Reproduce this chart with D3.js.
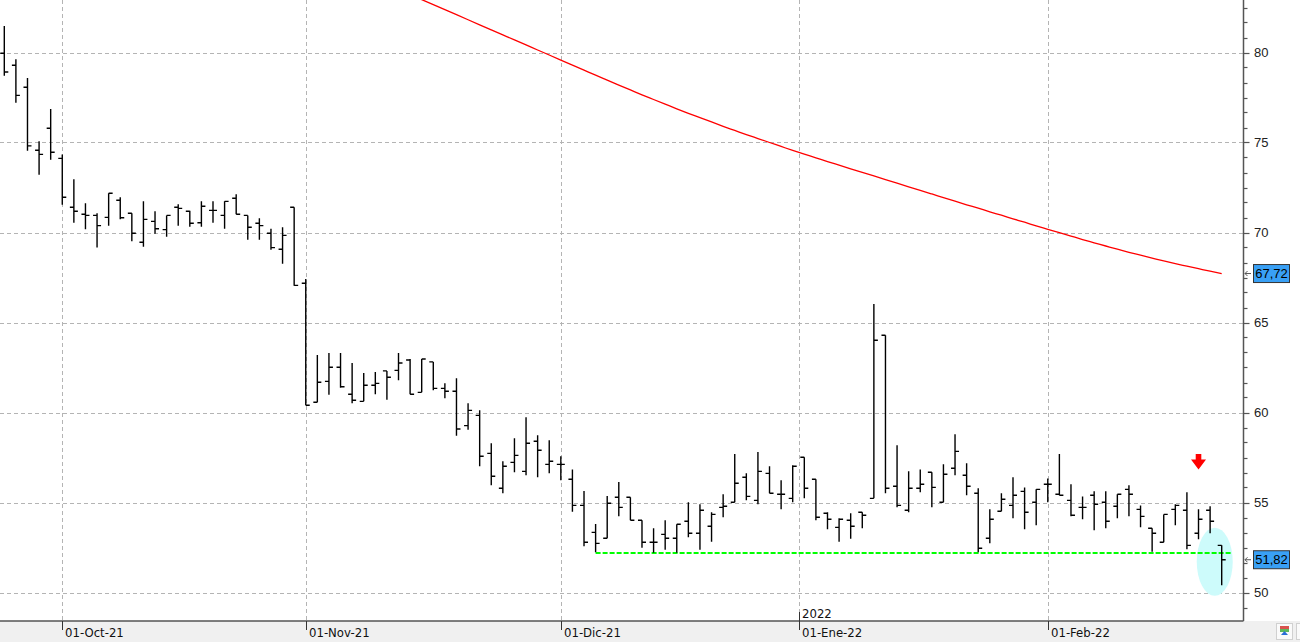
<!DOCTYPE html>
<html>
<head>
<meta charset="utf-8">
<script src="https://cdn.jsdelivr.net/npm/d3@7.9.0/dist/d3.min.js"></script>
<style>
  html, body { margin: 0; padding: 0; background: #fff; }
  svg { display: block; }
</style>
</head>
<body>
<svg id="chart" width="1300" height="642"></svg>
<script>
// daily OHLC, one entry per trading day (index 0 = late Sep 2021)
const opens = [79.96, 79.29, 78.07, 74.57, 75.79, 74.12, 71.40, 71.01, 70.95, 70.84,
  71.79, 71.07, 69.46, 70.62, 70.16, 71.40, 71.18, 70.54, 71.23, 70.95,
  71.90, 70.95, 70.51, 69.96, 69.07, 71.40, 67.18, 60.57, 61.73, 62.51,
  61.01, 60.62, 61.51, 62.31, 62.34, 62.92, 61.12, 62.81, 61.34, 61.18,
  59.27, 59.84, 57.73, 55.79, 57.23, 56.73, 58.40, 57.12, 57.12, 56.29,
  54.84, 53.34, 53.01, 55.29, 55.29, 54.01, 52.79, 53.23, 53.01, 53.96,
  53.29, 53.68, 54.73, 55.01, 56.40, 55.12, 56.62, 55.46, 55.23, 57.51,
  56.29, 54.40, 53.62, 54.01, 54.46, 55.23, 64.29, 55.90, 54.57, 55.79,
  56.68, 55.01, 56.90, 56.51, 55.51, 53.01, 54.51, 54.84, 55.62, 55.01,
  56.01, 55.46, 55.12, 54.73, 55.40, 55.01, 54.79, 55.73, 54.62, 53.57,
  52.79, 54.62, 54.57, 53.29, 54.57, 52.62];
const highs = [81.47, 79.62, 78.58, 75.07, 76.86, 74.34, 72.96, 71.62, 71.07, 72.18,
  71.96, 71.07, 71.73, 71.18, 70.95, 71.57, 71.21, 71.73, 71.73, 71.73,
  72.12, 70.95, 70.79, 70.21, 70.29, 71.40, 67.42, 63.19, 63.31, 63.31,
  62.75, 62.19, 62.25, 62.31, 63.31, 62.97, 62.97, 62.81, 61.62, 61.90,
  60.51, 60.12, 58.29, 57.29, 58.57, 59.73, 58.73, 58.46, 57.57, 56.84,
  55.64, 53.81, 55.36, 56.14, 55.29, 54.01, 53.57, 54.01, 53.79, 55.01,
  54.90, 54.46, 55.46, 57.69, 56.62, 57.81, 57.01, 56.23, 57.07, 57.51,
  56.29, 54.46, 54.12, 54.40, 54.46, 66.03, 64.29, 58.18, 56.73, 56.84,
  56.68, 57.12, 58.79, 57.18, 55.79, 54.62, 55.51, 56.40, 55.84, 55.73,
  56.34, 57.69, 56.01, 55.34, 55.62, 55.62, 55.46, 55.96, 54.84, 53.57,
  54.34, 54.90, 55.57, 54.62, 54.79, 52.62];
const lows = [78.71, 77.21, 74.54, 73.21, 74.04, 71.54, 70.54, 70.18, 69.16, 70.38,
  70.73, 69.51, 69.21, 69.93, 69.77, 70.38, 70.32, 70.32, 70.54, 70.21,
  71.01, 69.60, 69.60, 69.04, 68.27, 67.04, 60.40, 60.57, 60.99, 61.38,
  60.51, 60.62, 61.01, 60.71, 61.79, 61.01, 61.12, 61.23, 60.79, 58.71,
  59.04, 57.01, 55.96, 55.51, 56.68, 56.51, 56.40, 56.62, 56.23, 54.49,
  52.57, 52.23, 53.01, 54.23, 54.01, 52.49, 52.21, 52.38, 52.21, 53.07,
  52.38, 52.82, 54.18, 55.01, 55.12, 54.90, 55.51, 54.62, 55.01, 55.23,
  54.01, 53.51, 52.82, 52.99, 53.57, 55.23, 55.51, 54.73, 54.46, 55.57,
  54.73, 55.01, 56.51, 55.40, 52.23, 52.73, 54.51, 54.12, 53.51, 53.73,
  55.01, 55.40, 54.23, 54.07, 53.46, 53.57, 54.12, 54.23, 53.62, 52.27,
  52.79, 53.73, 52.40, 52.96, 53.29, 50.40];
const closes = [78.92, 77.62, 74.81, 74.34, 74.46, 71.96, 71.18, 70.95, 70.38, 72.18,
  70.82, 69.96, 70.73, 70.21, 70.95, 71.34, 70.51, 71.46, 71.23, 71.73,
  71.01, 70.29, 70.38, 69.16, 69.84, 67.06, 60.40, 61.68, 62.51, 61.43,
  60.68, 61.51, 61.62, 61.96, 62.75, 61.01, 62.97, 61.34, 61.18, 59.08,
  60.12, 57.57, 56.46, 57.01, 57.62, 58.29, 57.90, 57.29, 57.12, 54.84,
  52.79, 52.73, 54.96, 54.73, 54.01, 52.79, 52.79, 53.01, 53.79, 53.29,
  54.57, 54.34, 54.79, 56.07, 55.34, 56.73, 55.51, 55.46, 57.01, 55.79,
  54.18, 54.07, 54.07, 53.68, 54.29, 64.01, 55.79, 54.84, 55.79, 56.01,
  55.84, 56.57, 57.84, 55.90, 52.46, 54.07, 55.18, 55.40, 54.46, 55.73,
  56.01, 55.40, 54.29, 54.73, 54.90, 53.96, 55.46, 55.46, 54.23, 53.29,
  54.34, 54.84, 52.62, 54.07, 53.96, 51.82];

// moving average (red), starts at bar 35
const maStart = 35;
const maValues = [83.22, 82.94, 82.66, 82.38, 82.10, 81.82, 81.54, 81.26, 80.98, 80.70,
  80.42, 80.14, 79.86, 79.58, 79.30, 79.02, 78.74, 78.47, 78.19, 77.92,
  77.65, 77.39, 77.13, 76.87, 76.62, 76.38, 76.14, 75.90, 75.67, 75.44,
  75.22, 75.00, 74.78, 74.56, 74.35, 74.15, 73.94, 73.74, 73.54, 73.34,
  73.14, 72.94, 72.74, 72.54, 72.34, 72.14, 71.94, 71.74, 71.54, 71.35,
  71.15, 70.96, 70.76, 70.57, 70.37, 70.18, 69.99, 69.80, 69.61, 69.43,
  69.25, 69.07, 68.90, 68.74, 68.58, 68.42, 68.27, 68.13, 67.99, 67.85,
  67.72];

const monthLabels = ['01-Oct-21', '01-Nov-21', '01-Dic-21', '01-Ene-22', '01-Feb-22'];
const monthIdx = [5, 26, 48, 68.5, 90];
const yearLabel = '2022';
const yTicks = [50, 55, 60, 65, 70, 75, 80];

const supportLevel = 52.2;
const supportFrom = 51;
const arrowBar = 103;
const arrowTop = 57.7;

const W = 1300, H = 642, plotR = 1243.5, plotB = 621;
const fmt = v => d3.format('.2f')(v).replace('.', ',');

const x = d3.scaleLinear().domain([0, opens.length - 1]).range([4.3, 1221.7]);
const y = d3.scaleLinear().domain([50, 80]).range([592.5, 52.5]);

const svg = d3.select('#chart');

svg.append('defs').append('clipPath').attr('id', 'plot')
  .append('rect').attr('x', 0).attr('y', 0).attr('width', plotR).attr('height', plotB);

// bottom band
svg.append('rect').attr('x', 0).attr('y', plotB).attr('width', W).attr('height', H - plotB)
  .attr('fill', '#f0f0f0');

// grid
const grid = svg.append('g').attr('stroke', '#b4b4b4').attr('stroke-dasharray', '4,3')
  .attr('shape-rendering', 'crispEdges');
yTicks.forEach(v => {
  grid.append('line').attr('x1', 0).attr('x2', plotR)
    .attr('y1', Math.round(y(v)) + 0.5).attr('y2', Math.round(y(v)) + 0.5);
});
monthIdx.forEach(i => {
  grid.append('line').attr('y1', 0).attr('y2', plotB)
    .attr('x1', Math.round(x(i)) + 0.5).attr('x2', Math.round(x(i)) + 0.5);
});

// highlight ellipse behind last bar
svg.append('ellipse')
  .attr('cx', x(104.4)).attr('cy', y(51.71))
  .attr('rx', 18).attr('ry', 34)
  .attr('fill', '#cdfbfb');

// moving average
const maLine = d3.line()
  .x((d, i) => x(maStart + i))
  .y(d => y(d))
  .curve(d3.curveMonotoneX);
svg.append('path')
  .datum(maValues)
  .attr('clip-path', 'url(#plot)')
  .attr('d', maLine)
  .attr('fill', 'none')
  .attr('stroke', '#ff0000')
  .attr('stroke-width', 1.3);

// support line
svg.append('line')
  .attr('x1', x(supportFrom)).attr('x2', x(opens.length - 1) + 10)
  .attr('y1', y(supportLevel)).attr('y2', y(supportLevel))
  .attr('stroke', '#00ff00')
  .attr('stroke-width', 2)
  .attr('stroke-dasharray', '5,2');

// OHLC bars
const bars = svg.append('g').attr('stroke', '#000').attr('stroke-width', 1.4).attr('fill', 'none');
opens.forEach((o, i) => {
  const cx = x(i);
  bars.append('path').attr('d',
    `M${cx},${y(highs[i])}V${y(lows[i])}` +
    `M${cx - 4},${y(o)}H${cx}` +
    `M${cx},${y(closes[i])}H${cx + 4}`);
});

// red arrow
const ax = x(arrowBar), ay = y(arrowTop);
svg.append('path')
  .attr('d', `M${ax - 2.8},${ay}H${ax + 2.8}V${ay + 5.5}H${ax + 7.5}L${ax},${ay + 15.5}L${ax - 7.5},${ay + 5.5}H${ax - 2.8}Z`)
  .attr('fill', '#ff0000');

// right axis
const ra = svg.append('g');
ra.append('line').attr('x1', plotR).attr('x2', plotR).attr('y1', 0).attr('y2', plotB)
  .attr('stroke', '#555').attr('stroke-width', 1.5);
d3.range(-1, 40).forEach(k => {
  const v = 50 + k * 5 / 6;
  const major = k % 6 === 0;
  ra.append('line').attr('x1', plotR).attr('x2', plotR + (major ? 6 : 4))
    .attr('y1', Math.round(y(v)) + 0.5).attr('y2', Math.round(y(v)) + 0.5)
    .attr('stroke', '#555').attr('stroke-width', 1.2);
});
ra.selectAll('text.yl').data(yTicks).join('text')
  .attr('x', 1254).attr('y', d => y(d) + 4.5)
  .attr('font-family', 'Liberation Sans, Arial, sans-serif')
  .attr('font-size', 13).attr('fill', '#222')
  .text(d => d);

// bottom axis
const ba = svg.append('g');
ba.append('line').attr('x1', 0).attr('x2', plotR).attr('y1', plotB).attr('y2', plotB)
  .attr('stroke', '#555').attr('stroke-width', 1.5);
monthIdx.forEach((i, k) => {
  const mx = Math.round(x(i)) + 0.5;
  const isYear = monthLabels[k].endsWith('Ene-22');
  ba.append('line').attr('x1', mx).attr('x2', mx)
    .attr('y1', isYear ? 612 : plotB).attr('y2', 630)
    .attr('stroke', '#333').attr('stroke-width', 1);
  ba.append('text').attr('x', mx + 2.5).attr('y', 636.5)
    .attr('font-family', 'Liberation Sans Narrow, Arial Narrow, DejaVu Sans Condensed, sans-serif')
    .attr('font-stretch', 'condensed')
    .attr('font-size', 13).attr('fill', '#111')
    .text(monthLabels[k]);
  if (isYear) {
    ba.append('text').attr('x', mx + 2.5).attr('y', 618)
      .attr('font-family', 'Liberation Sans Narrow, Arial Narrow, DejaVu Sans Condensed, sans-serif')
      .attr('font-stretch', 'condensed')
      .attr('font-size', 13).attr('fill', '#111')
      .text(yearLabel);
  }
});

// last value labels
function priceTag(v) {
  const ty = y(v);
  const g = svg.append('g');
  g.append('path')
    .attr('d', `M1251,${ty}H1245M1247.5,${ty - 2.5}L1245,${ty}L1247.5,${ty + 2.5}`)
    .attr('stroke', '#555').attr('fill', 'none').attr('stroke-width', 1);
  g.append('rect').attr('x', 1253.5).attr('y', ty - 9).attr('width', 36).attr('height', 18)
    .attr('fill', '#39a0f5').attr('stroke', '#333').attr('stroke-width', 1);
  g.append('text').attr('x', 1271.5).attr('y', ty + 4.5)
    .attr('text-anchor', 'middle')
    .attr('font-family', 'Liberation Sans, Arial, sans-serif')
    .attr('font-size', 13).attr('fill', '#000')
    .text(fmt(v));
}
priceTag(maValues[maValues.length - 1]);
priceTag(closes[closes.length - 1]);

// small icon bottom right
const ic = svg.append('g');
ic.append('rect').attr('x', 1276.5).attr('y', 623.5).attr('width', 16).attr('height', 16)
  .attr('fill', '#fafafa').attr('stroke', '#d0d0d0');
ic.append('rect').attr('x', 1280).attr('y', 626).attr('width', 9).attr('height', 3).attr('fill', '#d9534f');
ic.append('rect').attr('x', 1280).attr('y', 629).attr('width', 9).attr('height', 3).attr('fill', '#5cb85c');
ic.append('path').attr('d', 'M1284.5,631L1288,635H1281Z').attr('fill', '#2a6fd6');
ic.append('rect').attr('x', 1296.5).attr('y', 623.5).attr('width', 8).attr('height', 16)
  .attr('fill', '#fafafa').attr('stroke', '#d0d0d0');
</script>
</body>
</html>
